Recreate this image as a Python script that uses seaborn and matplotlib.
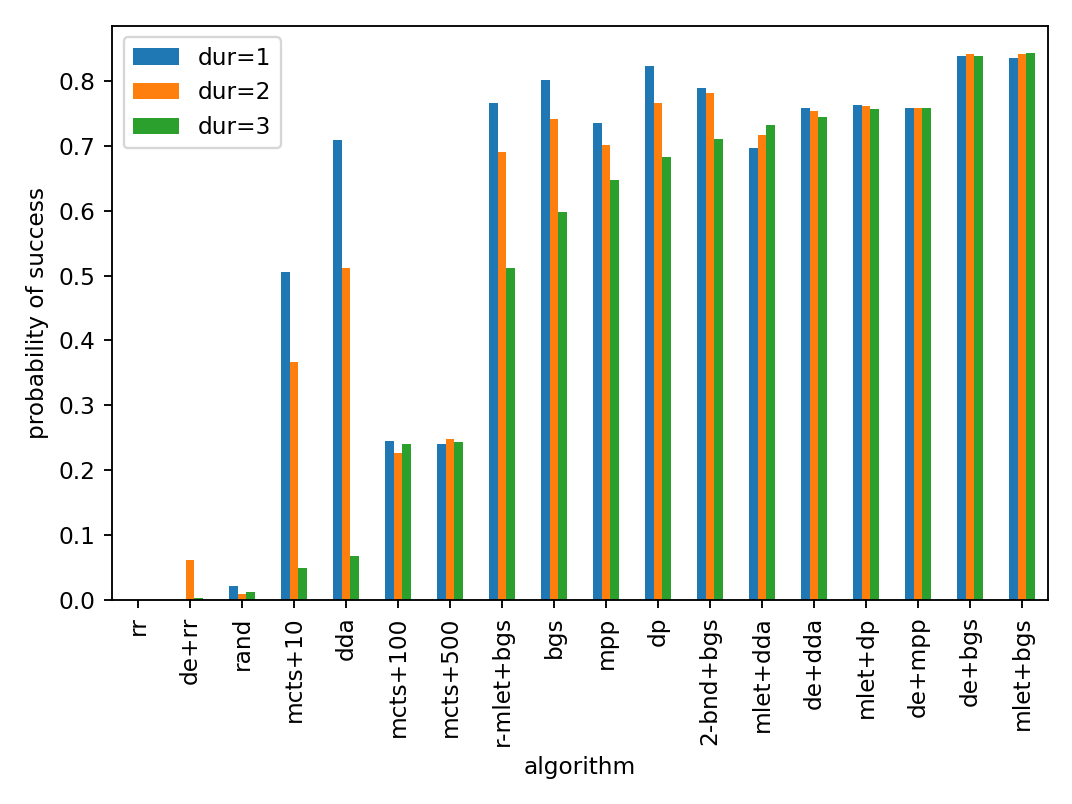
import pandas as pd
import seaborn as sns
import matplotlib.pyplot as plt

algorithms = ['rr', 'de+rr', 'rand', 'mcts+10', 'dda', 'mcts+100', 'mcts+500',
              'r-mlet+bgs', 'bgs', 'mpp', 'dp', '2-bnd+bgs', 'mlet+dda',
              'de+dda', 'mlet+dp', 'de+mpp', 'de+bgs', 'mlet+bgs']
dur1 = [0.0, 0.0, 0.021, 0.505, 0.709, 0.245, 0.240, 0.766, 0.802, 0.735,
        0.823, 0.789, 0.696, 0.758, 0.763, 0.758, 0.839, 0.836]
dur2 = [0.0, 0.062, 0.009, 0.367, 0.511, 0.227, 0.248, 0.691, 0.742, 0.701,
        0.766, 0.781, 0.716, 0.753, 0.761, 0.758, 0.841, 0.841]
dur3 = [0.0, 0.003, 0.012, 0.050, 0.068, 0.240, 0.243, 0.511, 0.598, 0.647,
        0.683, 0.711, 0.732, 0.745, 0.756, 0.758, 0.839, 0.843]
series = ['dur=1', 'dur=2', 'dur=3']

df = pd.DataFrame({'algorithm': algorithms, 'dur=1': dur1,
                   'dur=2': dur2, 'dur=3': dur3})
long = df.melt(id_vars='algorithm', var_name='dur', value_name='p')

fig, ax = plt.subplots(figsize=(6.4, 4.8), dpi=167.5)
sns.barplot(data=long, x='algorithm', y='p', hue='dur', order=algorithms,
            hue_order=series, palette=['#1f77b4', '#ff7f0e', '#2ca02c'],
            saturation=1, width=0.5, gap=0, linewidth=0, errorbar=None, ax=ax)

ax.set_xlim(-0.5, len(algorithms) - 0.5)
ax.set_ylim(0, 0.885)
ax.tick_params(axis='x', rotation=90)
ax.set_xlabel('algorithm')
ax.set_ylabel('probability of success')
handles, labels = ax.get_legend_handles_labels()
ax.legend(handles, labels, loc='upper left')

fig.subplots_adjust(left=0.1045, right=0.9776, top=0.968, bottom=0.2537)
fig.savefig('out.png')
